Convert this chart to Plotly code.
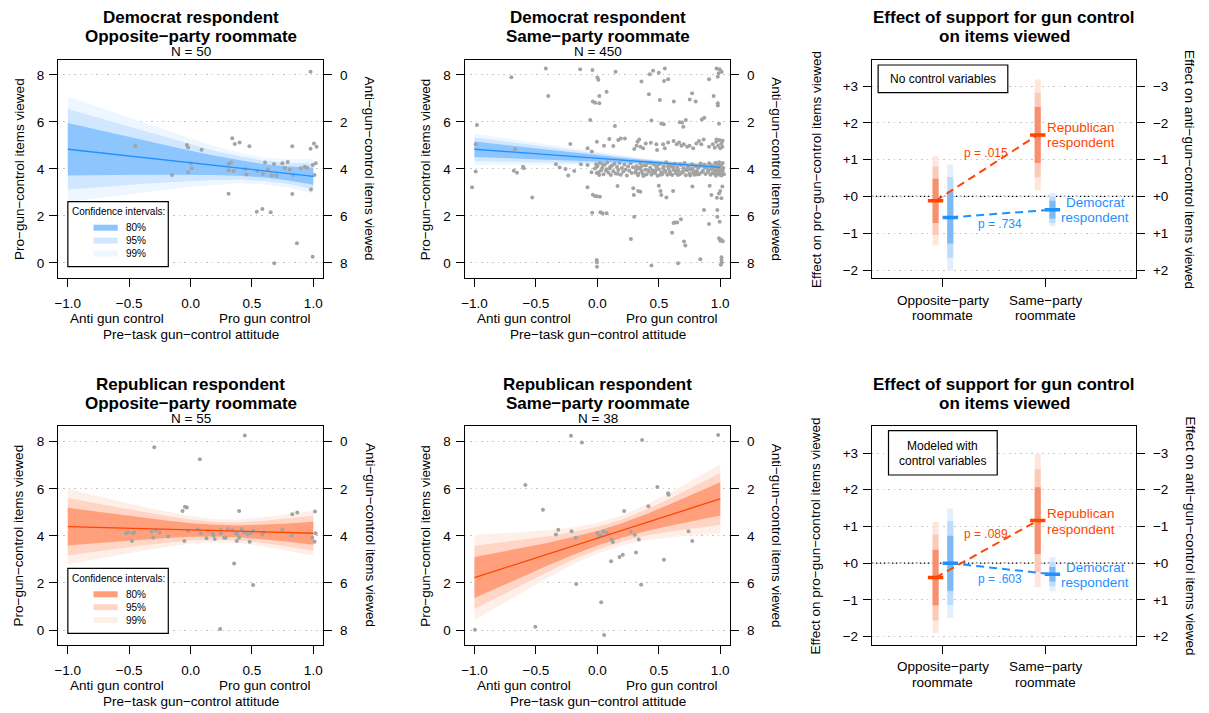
import plotly.graph_objects as go

W, H = 1209, 713
FONT = "Liberation Sans, Arial, Helvetica, sans-serif"

# ---------------- tick labels / categories ----------------
att_tickvals = [-1.0, -0.5, 0.0, 0.5, 1.0]
att_ticktext = ["−1.0", "−0.5", "0.0", "0.5", "1.0"]
items_tickvals = [0, 2, 4, 6, 8]
pro_ticktext = ["0", "2", "4", "6", "8"]
anti_ticktext = ["8", "6", "4", "2", "0"]
eff_tickvals = [-2, -1, 0, 1, 2, 3]
eff_pro_ticktext = ["−2", "−1", "+0", "+1", "+2", "+3"]
eff_anti_ticktext = ["+2", "+1", "+0", "−1", "−2", "−3"]
group_pos = [1, 2]
group_line1 = ["Opposite−party", "Same−party"]
group_line2 = ["roommate", "roommate"]
ci_labels = ["80%", "95%", "99%"]

# ---------------- fitted lines and confidence bands ----------------
band_x = [-1.0, -0.8, -0.6, -0.4, -0.2, 0.0, 0.2, 0.4, 0.6, 0.8, 1.0]

p1_fit = [4.84, 4.73, 4.61, 4.50, 4.38, 4.27, 4.15, 4.04, 3.92, 3.81, 3.69]
p1_hw80 = [1.12, 0.99, 0.87, 0.75, 0.63, 0.51, 0.41, 0.33, 0.28, 0.30, 0.36]
p1_hw95 = [1.71, 1.52, 1.33, 1.14, 0.96, 0.78, 0.62, 0.50, 0.43, 0.45, 0.55]
p1_hw99 = [2.25, 2.00, 1.74, 1.50, 1.26, 1.03, 0.82, 0.65, 0.57, 0.60, 0.73]

p2_fit = [4.84, 4.76, 4.69, 4.61, 4.53, 4.46, 4.38, 4.30, 4.22, 4.15, 4.07]
p2_hw80 = [0.33, 0.29, 0.25, 0.21, 0.17, 0.14, 0.10, 0.07, 0.06, 0.07, 0.10]
p2_hw95 = [0.50, 0.44, 0.38, 0.32, 0.27, 0.21, 0.15, 0.11, 0.09, 0.11, 0.15]
p2_hw99 = [0.66, 0.58, 0.50, 0.43, 0.35, 0.28, 0.20, 0.14, 0.12, 0.14, 0.20]

p4_fit = [4.39, 4.36, 4.33, 4.31, 4.28, 4.25, 4.22, 4.19, 4.17, 4.14, 4.11]
p4_hw80 = [0.80, 0.69, 0.58, 0.47, 0.37, 0.29, 0.25, 0.25, 0.31, 0.39, 0.49]
p4_hw95 = [1.22, 1.05, 0.88, 0.72, 0.57, 0.45, 0.37, 0.38, 0.47, 0.60, 0.74]
p4_hw99 = [1.61, 1.38, 1.16, 0.95, 0.75, 0.59, 0.49, 0.50, 0.62, 0.79, 0.96]

p5_fit = [2.23, 2.56, 2.90, 3.23, 3.57, 3.90, 4.23, 4.57, 4.90, 5.24, 5.57]
p5_hw80 = [0.87, 0.74, 0.61, 0.48, 0.38, 0.31, 0.31, 0.36, 0.46, 0.58, 0.71]
p5_hw95 = [1.35, 1.14, 0.94, 0.75, 0.59, 0.49, 0.47, 0.56, 0.71, 0.90, 1.10]
p5_hw99 = [1.81, 1.53, 1.26, 1.01, 0.79, 0.65, 0.64, 0.76, 0.96, 1.21, 1.47]

# ---------------- jittered respondent points (x = attitude, y = pro items) ----------------
p1_points = [
    (-0.45, 4.98), (-0.15, 3.74), (-0.03, 5.02), (-0.02, 4.91), (-0.02, 3.86), (0.00, 4.24), (0.01, 4.03),
    (0.09, 4.82), (0.34, 5.31), (0.36, 5.06), (0.40, 5.13), (0.48, 4.97), (0.31, 2.95), (0.31, 4.21),
    (0.33, 4.28), (0.31, 3.95), (0.35, 3.91), (0.445, 4.00), (0.456, 3.77), (0.54, 2.18), (0.585, 2.30),
    (0.653, 2.16), (0.544, 3.91), (0.59, 3.79), (0.607, 4.28), (0.63, 3.99), (0.661, 3.72), (0.68, 4.21),
    (0.70, 3.72), (0.748, 4.24), (0.792, 4.30), (0.767, 4.04), (0.808, 3.97), (0.829, 4.97), (0.837, 3.74),
    (0.829, 2.94), (0.897, 4.03), (0.93, 4.10), (0.867, 0.84), (0.683, -0.01), (0.978, 8.14), (0.978, 4.86),
    (1.006, 5.09), (1.027, 4.95), (0.996, 4.17), (1.02, 4.24), (1.01, 3.74), (0.981, 3.13), (0.995, 0.27),
    (0.95, 4.05),
]

p2_points_sparse = [
    (-0.42, 8.28), (-0.70, 7.90), (-0.14, 8.24), (-0.04, 8.21), (0.00, 7.89), (0.008, 7.80), (-0.40, 7.11),
    (-0.037, 6.87), (-0.018, 6.82), (-0.98, 5.87), (-0.058, 6.09), (-0.99, 5.05), (-0.67, 4.85), (-0.22, 5.06),
    (-0.08, 4.88), (-0.045, 4.74), (-0.004, 5.16), (-0.99, 3.89), (-0.68, 3.93), (-0.654, 3.84), (-0.605, 4.10),
    (-0.60, 4.03), (-0.337, 4.20), (-0.307, 4.06), (-0.26, 4.00), (-0.237, 3.72), (-0.188, 3.91), (-0.134, 4.20),
    (-0.08, 4.17), (-0.048, 3.86), (-0.02, 4.02), (-0.01, 4.20), (-0.005, 3.83), (-1.02, 3.22), (-0.53, 2.79),
    (-0.08, 3.22), (-0.037, 2.90), (-0.018, 2.84), (-0.004, 2.84), (-0.042, 2.14), (-0.005, 0.13), (-0.004, 0.03),
    (-0.003, -0.16),
    (0.148, 8.14), (0.359, 7.72), (0.427, 8.03), (0.454, 8.18), (0.50, 8.10), (0.549, 8.28), (0.543, 7.74),
    (0.576, 7.82), (0.909, 7.82), (0.97, 8.28), (0.995, 8.24), (1.012, 8.14), (0.987, 8.07), (0.98, 7.93),
    (0.016, 7.11), (0.016, 6.80), (0.075, 7.29), (0.419, 7.18), (0.508, 6.94), (0.622, 6.87), (0.752, 6.96),
    (0.771, 7.22), (0.80, 6.87), (0.946, 7.11), (0.98, 6.80), (0.98, 6.70),
    (0.143, 5.83), (0.44, 6.06), (0.52, 5.94), (0.54, 5.90), (0.67, 5.99), (0.69, 5.98), (0.70, 5.80),
    (0.72, 6.09), (0.85, 6.11), (0.87, 6.18), (0.99, 5.92),
    (0.054, 4.99), (0.097, 5.28), (0.13, 4.98), (0.17, 5.23), (0.19, 5.30), (0.224, 5.30), (0.30, 4.85),
    (0.327, 5.16), (0.34, 5.26), (0.319, 4.99), (0.35, 4.95), (0.373, 4.88), (0.394, 5.09), (0.435, 5.12),
    (0.48, 5.05), (0.486, 4.81), (0.535, 5.05), (0.549, 4.88), (0.576, 5.13), (0.62, 5.19), (0.645, 5.05),
    (0.665, 5.13), (0.684, 4.99), (0.703, 5.05), (0.73, 4.95), (0.75, 4.99), (0.78, 4.88), (0.806, 5.09),
    (0.827, 5.19), (0.846, 5.05), (0.865, 5.26), (0.909, 4.95), (0.94, 5.05), (0.968, 5.16), (0.982, 4.99),
    (0.995, 5.23), (1.009, 5.09), (1.017, 4.95), (1.00, 4.88), (0.97, 5.26), (0.955, 4.90), (1.02, 5.20),
    (0.02, 2.82), (0.164, 3.28), (0.292, 3.18), (0.297, 2.89), (0.332, 3.06), (0.35, 3.03), (0.50, 3.29),
    (0.514, 3.06), (0.52, 2.89), (0.562, 2.79), (0.616, 3.06), (0.773, 3.25), (0.914, 3.29), (0.928, 2.89),
    (0.973, 2.78), (0.99, 2.96), (1.00, 3.06), (1.017, 3.25), (1.01, 2.75),
    (0.025, 2.16), (0.042, 2.12), (0.075, 2.12), (0.30, 1.97), (0.868, 2.26), (0.976, 2.26), (0.976, 1.97),
    (0.995, 1.76), (0.68, 1.86), (0.65, 1.72), (0.63, 1.72), (0.62, 1.70), (0.608, 1.29), (0.273, 1.02),
    (0.705, 0.91), (0.716, 0.74), (0.909, 1.66), (0.99, 1.05), (1.00, 0.95), (1.01, 0.98), (1.02, 0.93),
    (0.44, -0.11), (0.657, -0.01), (0.838, 0.16), (1.01, 0.24), (1.01, 0.13), (1.012, 0.01), (1.005, -0.08),
]

p2_points_dense = [
    (0.00, 4.12), (0.01, 3.86), (0.02, 4.25), (0.03, 3.95), (0.04, 4.05), (0.05, 3.78), (0.06, 4.18),
    (0.07, 3.92), (0.08, 4.28), (0.09, 3.84), (0.10, 4.02), (0.11, 3.74), (0.12, 4.15), (0.13, 3.90),
    (0.14, 4.22), (0.15, 3.81), (0.16, 4.08), (0.17, 3.96), (0.18, 4.26), (0.19, 3.76), (0.20, 4.04),
    (0.21, 3.88), (0.22, 4.19), (0.23, 3.98), (0.24, 3.72), (0.25, 4.11), (0.26, 3.93), (0.27, 4.24),
    (0.28, 3.83), (0.29, 4.07), (0.015, 3.74), (0.045, 4.20), (0.075, 3.99), (0.105, 4.10), (0.165, 3.80),
    (0.31, 3.85), (0.32, 4.12), (0.33, 3.73), (0.34, 4.02), (0.35, 4.24), (0.36, 3.91), (0.37, 3.80),
    (0.38, 4.16), (0.39, 3.97), (0.40, 3.77), (0.41, 4.27), (0.42, 3.88), (0.43, 4.05), (0.44, 3.75),
    (0.45, 3.94), (0.46, 4.19), (0.47, 3.83), (0.48, 4.08), (0.49, 3.71), (0.50, 3.99), (0.51, 4.22),
    (0.52, 3.86), (0.53, 3.79), (0.54, 4.11), (0.55, 3.93), (0.56, 4.29), (0.57, 3.76), (0.58, 4.01),
    (0.59, 3.89), (0.60, 4.14), (0.61, 3.74), (0.62, 3.96), (0.63, 4.21), (0.64, 3.82), (0.65, 4.06),
    (0.66, 3.92), (0.67, 3.78), (0.68, 4.17), (0.69, 3.87), (0.70, 4.03), (0.71, 4.25), (0.72, 3.73),
    (0.73, 3.95), (0.74, 4.09), (0.75, 3.81), (0.76, 3.98), (0.77, 4.20), (0.78, 3.84), (0.79, 3.76),
    (0.80, 4.13), (0.81, 3.90), (0.82, 4.04), (0.83, 3.79), (0.84, 4.23), (0.85, 3.86),
    (0.315, 3.98), (0.335, 3.81), (0.355, 4.09), (0.375, 3.70), (0.395, 4.15), (0.415, 3.92), (0.435, 4.26),
    (0.455, 3.84), (0.475, 3.95), (0.495, 4.18), (0.515, 3.76), (0.535, 4.03), (0.555, 3.88), (0.575, 4.12),
    (0.595, 3.79), (0.615, 4.07), (0.635, 3.93), (0.655, 3.74), (0.675, 4.20), (0.695, 3.85), (0.715, 3.97),
    (0.735, 4.10), (0.755, 3.72), (0.775, 4.01), (0.795, 3.89), (0.815, 3.77), (0.835, 4.14),
    (0.86, 3.92), (0.87, 4.18), (0.88, 3.79), (0.89, 4.05), (0.90, 3.87), (0.91, 4.24), (0.92, 3.75),
    (0.93, 3.99), (0.94, 4.12), (0.95, 3.83), (0.96, 4.27), (0.965, 3.71), (0.97, 4.08), (0.975, 3.94),
    (0.98, 3.80), (0.985, 4.21), (0.99, 3.89), (0.995, 4.02), (1.00, 3.74), (1.005, 4.15), (1.01, 3.96),
    (1.015, 3.85), (1.02, 4.26), (1.025, 4.04), (1.03, 3.78), (0.955, 3.93), (0.945, 4.10), (0.935, 3.82),
    (0.925, 4.17), (0.99, 4.29), (1.00, 3.88), (1.01, 3.72), (0.98, 4.01), (0.97, 4.23), (1.02, 3.91),
    (0.96, 3.77), (0.875, 4.07), (0.905, 3.95),
]

p4_points = [
    (-0.295, 7.76), (0.076, 7.25), (0.442, 8.26), (-0.065, 5.06), (-0.046, 5.24), (-0.03, 5.20), (0.396, 5.06),
    (0.829, 4.92), (0.87, 4.99), (1.014, 5.03), (-0.526, 4.11), (-0.507, 4.15), (-0.47, 4.11), (-0.458, 4.15),
    (-0.477, 3.78), (-0.317, 4.18), (-0.304, 3.92), (-0.282, 4.25), (-0.25, 4.14), (-0.182, 3.97), (-0.05, 3.78),
    (-0.02, 4.21), (0.057, 4.28), (0.084, 4.11), (0.13, 3.90), (0.144, 4.22), (0.187, 4.01), (0.198, 3.87),
    (0.247, 4.25), (0.247, 4.11), (0.287, 3.92), (0.304, 4.28), (0.341, 4.25), (0.369, 4.11), (0.377, 3.78),
    (0.382, 4.08), (0.396, 3.92), (0.417, 4.28), (0.436, 4.14), (0.463, 4.08), (0.482, 3.75), (0.49, 4.11),
    (0.512, 4.22), (0.355, 2.83), (0.51, 1.91), (0.241, 0.04), (0.585, 4.07), (0.598, 4.14), (0.748, 4.25),
    (0.824, 4.01), (0.992, 3.92), (1.011, 3.75), (1.019, 4.11), (0.274, 3.92), (0.18, 4.11),
]

p5_points = [
    (-0.215, 8.25), (-0.126, 7.97), (0.364, 8.07), (0.983, 8.28), (-0.586, 6.16), (-0.443, 5.11), (0.488, 6.08),
    (0.575, 5.81), (0.58, 5.75), (0.218, 5.06), (0.415, 5.26), (-0.337, 4.06), (-0.318, 4.26), (-0.21, 4.20),
    (-0.177, 3.92), (0.001, 4.12), (0.009, 3.95), (0.05, 4.19), (0.077, 4.13), (0.117, 3.84), (0.126, 3.74),
    (0.112, 2.92), (0.18, 3.10), (0.207, 3.20), (0.272, 4.19), (0.304, 4.05), (0.337, 3.84), (0.315, 3.29),
    (0.542, 2.99), (0.742, 4.20), (0.772, 3.78), (-0.172, 1.95), (0.356, 1.92), (0.031, 1.18), (-0.997, 0.01),
    (-0.505, 0.14), (0.055, -0.21), (0.028, 4.02),
]

# ---------------- effect panels (estimate and CI half-widths, per roommate group) ----------------
eff1_rep_est = [-0.12, 1.67]
eff1_rep_hw80 = [0.60, 0.76]
eff1_rep_hw95 = [0.93, 1.15]
eff1_rep_hw99 = [1.21, 1.51]
eff1_dem_est = [-0.57, -0.36]
eff1_dem_hw80 = [0.71, 0.24]
eff1_dem_hw95 = [1.10, 0.36]
eff1_dem_hw99 = [1.44, 0.45]
eff1_pvals = ["p = .015", "p = .734"]

eff2_rep_est = [-0.39, 1.16]
eff2_rep_hw80 = [0.76, 0.91]
eff2_rep_hw95 = [1.17, 1.40]
eff2_rep_hw99 = [1.51, 1.81]
eff2_dem_est = [0.00, -0.30]
eff2_dem_hw80 = [0.75, 0.20]
eff2_dem_hw95 = [1.14, 0.33]
eff2_dem_hw99 = [1.49, 0.46]
eff2_pvals = ["p = .089", "p = .603"]

# ---------------- styles ----------------
BLUE = "#1E90FF"
RED = "#FF4500"
BLUE_BANDS = ["#8DC5FF", "#D1E7FF", "#EEF6FF"]
RED_BANDS = ["#FF9F7C", "#FFD5C6", "#FFEFE9"]
BLUE_BARS = ["#7DB9F5", "#BDDBFA", "#E3EFFC"]
RED_BARS = ["#F8906F", "#FCCAB9", "#FEE6DD"]
POINT = "#A3A3A3"
GRID = "#C4C4C4"
OFFSET = 0.072

boxes = {
    1: (55, 321, 60, 277.7),
    2: (462.7, 729, 60, 277.7),
    3: (871, 1136, 60, 277.7),
    4: (55, 321, 426, 645),
    5: (462.7, 729, 426, 645),
    6: (871, 1136, 426, 645),
}
sc_xrange = [-1.081, 1.081]
sc_yrange = {1: [-0.626, 8.638], 2: [-0.626, 8.638], 4: [-0.637, 8.667], 5: [-0.637, 8.667]}
eff_xrange = [0.304, 2.892]
eff_yrange = {3: [-2.209, 3.707], 6: [-2.226, 3.735]}

tickfont = dict(family=FONT, size=13.5, color="black")


def sfx(i):
    return "" if i == 1 else str(i)


fig = go.Figure()
layout = dict(width=W, height=H, margin=dict(l=0, r=0, t=0, b=0), paper_bgcolor="white",
              plot_bgcolor="white", showlegend=False, font=dict(family=FONT, size=13.5, color="black"))


def base_axis():
    return dict(ticks="outside", ticklen=8, tickwidth=1, tickcolor="black", showline=True,
                linecolor="black", linewidth=1, mirror=True, zeroline=False, showgrid=False,
                tickfont=tickfont, fixedrange=True)


for i, (x0, x1, y0, y1) in boxes.items():
    s = sfx(i)
    xd = [x0 / W, x1 / W]
    yd = [1 - y1 / H, 1 - y0 / H]
    xa = base_axis()
    ya = base_axis()
    xa.update(ticklabelstandoff=5)
    ya.update(showgrid=True, gridcolor=GRID, griddash="1.5px,4px", gridwidth=1, ticklabelstandoff=2)
    ra = dict(ticks="outside", ticklen=8, tickwidth=1, tickcolor="black", showline=False,
              showgrid=False, zeroline=False, tickfont=tickfont, fixedrange=True, ticklabelstandoff=5,
              overlaying="y" + s, side="right", anchor="x" + s)
    if i in sc_yrange:
        xa.update(domain=xd, anchor="y" + s, range=sc_xrange, tickvals=att_tickvals, ticktext=att_ticktext)
        ya.update(domain=yd, anchor="x" + s, range=sc_yrange[i], tickvals=items_tickvals, ticktext=pro_ticktext)
        ra.update(range=sc_yrange[i], tickvals=items_tickvals, ticktext=anti_ticktext)
    else:
        xa.update(domain=xd, anchor="y" + s, range=eff_xrange, tickvals=group_pos, showticklabels=False)
        ya.update(domain=yd, anchor="x" + s, range=eff_yrange[i], tickvals=eff_tickvals, ticktext=eff_pro_ticktext)
        ra.update(range=eff_yrange[i], tickvals=eff_tickvals, ticktext=eff_anti_ticktext)
    layout["xaxis" + s] = xa
    layout["yaxis" + s] = ya
    layout["yaxis" + str(i + 6)] = ra

fig.update_layout(**layout)


def scatter_panel(i, points, fit, hw80, hw95, hw99, bands, line_color):
    s = sfx(i)
    for hw, col in [(hw99, bands[2]), (hw95, bands[1]), (hw80, bands[0])]:
        upper = [f + h for f, h in zip(fit, hw)]
        lower = [f - h for f, h in zip(fit, hw)]
        fig.add_trace(go.Scatter(x=band_x + band_x[::-1], y=upper + lower[::-1], fill="toself",
                                 fillcolor=col, mode="lines", line=dict(width=0), hoverinfo="skip",
                                 xaxis="x" + s, yaxis="y" + s))
    fig.add_trace(go.Scatter(x=[p[0] for p in points], y=[p[1] for p in points], mode="markers",
                             marker=dict(size=4, color=POINT), hoverinfo="skip", xaxis="x" + s, yaxis="y" + s))
    fig.add_trace(go.Scatter(x=band_x, y=fit, mode="lines", line=dict(color=line_color, width=1.3),
                             hoverinfo="skip", xaxis="x" + s, yaxis="y" + s))
    # invisible trace binding the right-hand axis
    fig.add_trace(go.Scatter(x=[0], y=[4], mode="markers", marker=dict(opacity=0), hoverinfo="skip",
                             xaxis="x" + s, yaxis="y" + str(i + 6)))


scatter_panel(1, p1_points, p1_fit, p1_hw80, p1_hw95, p1_hw99, BLUE_BANDS, BLUE)
scatter_panel(2, p2_points_sparse + p2_points_dense, p2_fit, p2_hw80, p2_hw95, p2_hw99, BLUE_BANDS, BLUE)
scatter_panel(4, p4_points, p4_fit, p4_hw80, p4_hw95, p4_hw99, RED_BANDS, RED)
scatter_panel(5, p5_points, p5_fit, p5_hw80, p5_hw95, p5_hw99, RED_BANDS, RED)


def effect_panel(i, rep, dem, pvals, rep_lab_y, dem_lab_y, p_pos):
    s = sfx(i)
    fig.add_shape(type="line", xref="x" + s + " domain", yref="y" + s, x0=0, x1=1, y0=0, y1=0,
                  line=dict(color="black", width=1.2, dash="1.5px,2.5px"), layer="below")
    for (est, h80, h95, h99), off, bars, col in [(rep, -OFFSET, RED_BARS, RED), (dem, OFFSET, BLUE_BARS, BLUE)]:
        xs = [g + off for g in group_pos]
        for hw, bc in [(h99, bars[2]), (h95, bars[1]), (h80, bars[0])]:
            bx, by = [], []
            for xv, e, h in zip(xs, est, hw):
                bx += [xv, xv, None]
                by += [e - h, e + h, None]
            fig.add_trace(go.Scatter(x=bx, y=by, mode="lines", line=dict(color=bc, width=6),
                                     hoverinfo="skip", xaxis="x" + s, yaxis="y" + s))
    for (est, h80, h95, h99), off, col in [(rep, -OFFSET, RED), (dem, OFFSET, BLUE)]:
        xs = [g + off for g in group_pos]
        fig.add_trace(go.Scatter(x=xs, y=est, mode="lines", line=dict(color=col, width=2, dash="8px,5px"),
                                 hoverinfo="skip", xaxis="x" + s, yaxis="y" + s))
        fig.add_trace(go.Scatter(x=xs, y=est, mode="markers",
                                 marker=dict(symbol="line-ew", size=11, line=dict(color=col, width=3.5)),
                                 hoverinfo="skip", xaxis="x" + s, yaxis="y" + s))
    fig.add_trace(go.Scatter(x=[1.5], y=[0], mode="markers", marker=dict(opacity=0), hoverinfo="skip",
                             xaxis="x" + s, yaxis="y" + str(i + 6)))
    # group labels
    for txt, dy in [("Republican", 7.8), ("respondent", -7.8)]:
        fig.add_annotation(text=txt, x=2.35, y=rep_lab_y, xref="x" + s, yref="y" + s, showarrow=False,
                           yshift=dy, font=dict(family=FONT, size=13.5, color=RED))
    for txt, dy in [("Democrat", 7.8), ("respondent", -7.8)]:
        fig.add_annotation(text=txt, x=2.49, y=dem_lab_y, xref="x" + s, yref="y" + s, showarrow=False,
                           yshift=dy, font=dict(family=FONT, size=13.5, color=BLUE))
    for txt, (px_, py_), col in zip(pvals, p_pos, [RED, BLUE]):
        fig.add_annotation(text=txt, x=px_, y=py_, xref="x" + s, yref="y" + s, showarrow=False,
                           font=dict(family=FONT, size=12, color=col))


effect_panel(3, (eff1_rep_est, eff1_rep_hw80, eff1_rep_hw95, eff1_rep_hw99),
             (eff1_dem_est, eff1_dem_hw80, eff1_dem_hw95, eff1_dem_hw99), eff1_pvals,
             1.67, -0.37, [(1.42, 1.19), (1.56, -0.74)])
effect_panel(6, (eff2_rep_est, eff2_rep_hw80, eff2_rep_hw95, eff2_rep_hw99),
             (eff2_dem_est, eff2_dem_hw80, eff2_dem_hw95, eff2_dem_hw99), eff2_pvals,
             1.14, -0.32, [(1.42, 0.80), (1.56, -0.44)])


# ---------------- text in pixel positions ----------------
def pann(text, px, py, size=13.5, color="black", xanchor="center", angle=0, bold=False):
    if bold:
        text = "<b>" + text + "</b>"
    fig.add_annotation(text=text, x=px / W, y=1 - py / H, xref="paper", yref="paper", showarrow=False,
                       xanchor=xanchor, yanchor="middle", textangle=angle,
                       font=dict(family=FONT, size=size, color=color))


def prect(x0, x1, y0, y1):
    fig.add_shape(type="rect", xref="paper", yref="paper", x0=x0 / W, x1=x1 / W, y0=1 - y1 / H, y1=1 - y0 / H,
                  line=dict(color="black", width=1.2), fillcolor="white", layer="above")


titles = [
    (188, 0, ["Democrat respondent", "Opposite−party roommate"], "N = 50"),
    (596, 0, ["Democrat respondent", "Same−party roommate"], "N = 450"),
    (1003.5, 0, ["Effect of support for gun control", "on items viewed"], None),
    (188, 1, ["Republican respondent", "Opposite−party roommate"], "N = 55"),
    (596, 1, ["Republican respondent", "Same−party roommate"], "N = 38"),
    (1003.5, 1, ["Effect of support for gun control", "on items viewed"], None),
]
row_title_y = [(17.3, 36.0, 51.7), (384.0, 403.3, 419.0)]
for cx, row, lines, nlab in titles:
    ty1, ty2, ty3 = row_title_y[row]
    pann(lines[0], cx, ty1, size=17, bold=True)
    pann(lines[1], cx, ty2, size=17, bold=True)
    if nlab:
        pann(nlab, cx, ty3, size=13.5)

# axis titles
for row, cy in [(0, 169), (1, 535.5)]:
    pann("Pro−gun−control items viewed", 16, cy, angle=-90)
    pann("Anti−gun−control items viewed", 368.3, cy, angle=90)
    pann("Pro−gun−control items viewed", 423.3, cy, angle=-90)
    pann("Anti−gun−control items viewed", 775.7, cy, angle=90)
    pann("Effect on pro−gun−control items viewed", 815, cy, angle=-90)
    pann("Effect on anti−gun−control items viewed", 1190, cy, angle=90)

# x-axis labels of scatter panels
for (lx, rx, cx) in [(65, 311, 188), (472.7, 719, 596)]:
    for y_sub, y_tit in [(318.3, 334.3), (685, 701)]:
        pann("Anti gun control", lx, y_sub, xanchor="left")
        pann("Pro gun control", rx, y_sub, xanchor="right")
        pann("Pre−task gun−control attitude", cx, y_tit)

# group labels under effect panels
for y1_, y2_ in [(300, 315), (666.7, 682.3)]:
    for gx, l1, l2 in zip([942.3, 1044.7], group_line1, group_line2):
        pann(l1, gx, y1_)
        pann(l2, gx, y2_)

# model boxes in effect panels
prect(877.3, 1007.3, 65, 92.7)
pann("No control variables", 942.3, 79, size=12)
prect(887.7, 996.7, 430.7, 475)
pann("Modeled with", 942.2, 446, size=12)
pann("control variables", 942.2, 461, size=12)


# confidence-interval legends
def ci_legend(top, colors):
    prect(65, 165.7, top, top + 65)
    pann("Confidence intervals:", 115.3, top + 10, size=10)
    for k, (lab, col) in enumerate(zip(ci_labels, colors)):
        yy = top + 26 + 12.9 * k
        fig.add_shape(type="line", xref="paper", yref="paper", x0=90.7 / W, x1=115 / W,
                      y0=1 - yy / H, y1=1 - yy / H, line=dict(color=col, width=6), layer="above")
        pann(lab, 121.7, yy, size=10, xanchor="left")


ci_legend(201.7, BLUE_BANDS)
ci_legend(568.3, RED_BANDS)

fig.write_html("out.html", config={"displayModeBar": False},
               post_script="document.body.style.margin='0px';document.body.style.overflow='hidden';")
